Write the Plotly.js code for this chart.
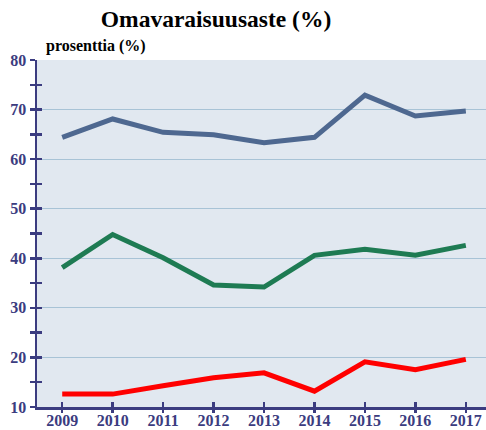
<!DOCTYPE html>
<html><head><meta charset="utf-8">
<script src="https://cdn.plot.ly/plotly-3.0.1.min.js"></script>
<style>html,body{margin:0;padding:0;background:#fff}</style>
</head><body><div id="chart" style="width:486px;height:430px"></div>
<script>
const years = [2009, 2010, 2011, 2012, 2013, 2014, 2015, 2016, 2017];
const seriesBlue = [64.4, 68.1, 65.4, 64.9, 63.3, 64.4, 72.9, 68.7, 69.7];
const seriesGreen = [38.1, 44.8, 40.1, 34.6, 34.2, 40.6, 41.8, 40.6, 42.6];
const seriesRed = [12.6, 12.6, 14.3, 15.9, 16.9, 13.2, 19.1, 17.5, 19.6];
const yTicks = [10, 20, 30, 40, 50, 60, 70, 80];

const navy = '#3b3c80';
const tickFont = {family: 'Liberation Serif, Times New Roman, serif', size: 16, color: navy, weight: 'bold'};
const xr = [2008.5, 2017.4];
const yr = [10, 80];

function line(y, color) {
  return {x: years, y: y, type: 'scatter', mode: 'lines', line: {color: color, width: 5}, hoverinfo: 'skip', cliponaxis: false};
}
const data = [
  line(seriesBlue, '#4e6890'),
  line(seriesGreen, '#1e7b53'),
  line(seriesRed, '#ff0000'),
  {x: years, y: seriesRed, xaxis: 'x2', yaxis: 'y2', type: 'scatter', mode: 'lines', opacity: 0, hoverinfo: 'skip', showlegend: false}
];
const layout = {
  width: 486, height: 430,
  margin: {l: 37, r: 0, t: 60, b: 23},
  paper_bgcolor: '#ffffff',
  plot_bgcolor: '#e1e8f0',
  showlegend: false,
  title: {text: '<b>Omavaraisuusaste (%)</b>', x: 216/486, xref: 'container', xanchor: 'center',
          y: 1 - 19/430, yref: 'container', yanchor: 'middle',
          font: {family: 'Liberation Serif, Times New Roman, serif', size: 23.5, color: '#000'}},
  xaxis: {range: xr, tickvals: years, ticktext: years.map(String), showgrid: false, zeroline: false,
          showline: true, linecolor: navy, linewidth: 2.5, ticks: 'inside', ticklen: 5, tickwidth: 2.5, tickcolor: navy,
          tickfont: tickFont, ticklabelstandoff: -3, fixedrange: true},
  xaxis2: {range: xr, overlaying: 'x', anchor: 'y', side: 'bottom', tickvals: years, showticklabels: false, showgrid: false, zeroline: false,
           showline: false, ticks: 'outside', ticklen: 5, tickwidth: 2.5, tickcolor: navy, fixedrange: true},
  yaxis: {range: yr, tickvals: yTicks, showgrid: true, gridcolor: '#a8c3d6', gridwidth: 1.2, zeroline: false,
          showline: true, linecolor: navy, linewidth: 2.5, ticks: 'outside', ticklen: 5, tickwidth: 2.5, tickcolor: navy,
          minor: {dtick: 5, ticks: 'outside', ticklen: 5, tickwidth: 2.5, tickcolor: navy, showgrid: false},
          tickfont: tickFont, fixedrange: true},
  yaxis2: {range: yr, overlaying: 'y', anchor: 'x', dtick: 5, tick0: 0, showticklabels: false, showgrid: false, zeroline: false,
           showline: false, ticks: 'inside', ticklen: 5, tickwidth: 2.5, tickcolor: navy, fixedrange: true},
  annotations: [{text: '<b>prosenttia (%)</b>', xref: 'paper', yref: 'paper', x: 7/449, y: 1, xanchor: 'left', yanchor: 'bottom',
                 yshift: 3, showarrow: false, font: {family: 'Liberation Serif, Times New Roman, serif', size: 16, color: '#000'}}]
};
Plotly.newPlot('chart', data, layout, {displayModeBar: false, staticPlot: true});
</script></body></html>
